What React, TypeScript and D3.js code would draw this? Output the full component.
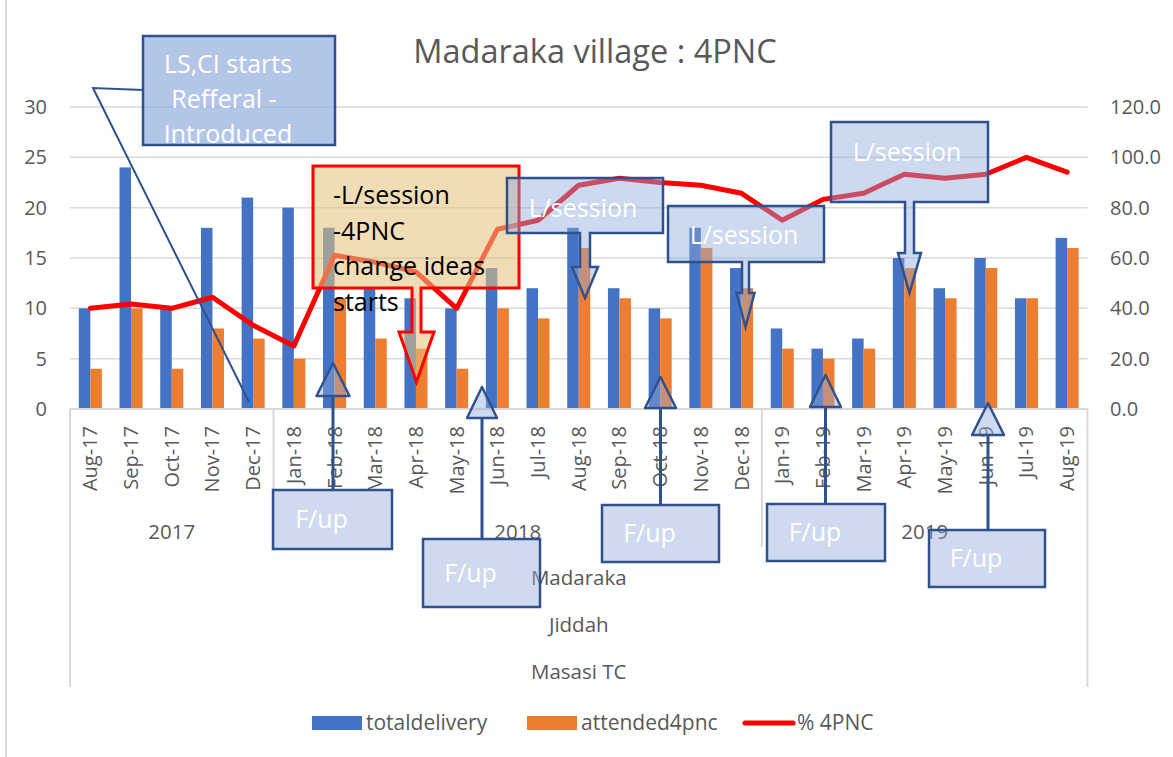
import React, { useRef, useEffect } from "react";
import * as d3 from "d3";

const months = [
  "Aug-17", "Sep-17", "Oct-17", "Nov-17", "Dec-17",
  "Jan-18", "Feb-18", "Mar-18", "Apr-18", "May-18", "Jun-18", "Jul-18",
  "Aug-18", "Sep-18", "Oct-18", "Nov-18", "Dec-18",
  "Jan-19", "Feb-19", "Mar-19", "Apr-19", "May-19", "Jun-19", "Jul-19", "Aug-19",
];
const yearLabels = ["2017", "2018", "2019"];
const yearSpans = [5, 12, 8];
const sites = ["Madaraka", "Jiddah", "Masasi TC"];

const totalDelivery = [10, 24, 10, 18, 21, 20, 18, 12, 11, 10, 14, 12, 18, 12, 10, 18, 14, 8, 6, 7, 15, 12, 15, 11, 17];
const attended4pnc = [4, 10, 4, 8, 7, 5, 11, 7, 6, 4, 10, 9, 16, 11, 9, 16, 12, 6, 5, 6, 14, 11, 14, 11, 16];
const pct4pnc = [40.0, 41.7, 40.0, 44.4, 33.3, 25.0, 61.1, 58.3, 54.5, 40.0, 71.4, 75.0, 88.9, 91.7, 90.0, 88.9, 85.7, 75.0, 83.3, 85.7, 93.3, 91.7, 93.3, 100.0, 94.1];

const leftTicks = [0, 5, 10, 15, 20, 25, 30];
const rightTicks = [0, 20, 40, 60, 80, 100, 120];

const FONT = "'Open Sans', 'Noto Sans', sans-serif";
const TXT = "#595959";
const GRID = "#d9d9d9";
const BLUE = "#4472c4";
const ORANGE = "#ed7d31";
const EDGE = "#2f528f";

// free-floating callouts drawn on top of the chart
const lsBoxes = [
  { x: 507, y: 178, w: 156, h: 55, tx: 583, ty: 217, cx: 585, sh: 5, hh: 13, headY: 267, tip: 298 },
  { x: 668, y: 206, w: 156, h: 56, tx: 744, ty: 244, cx: 745.5, sh: 3.5, hh: 9, headY: 293, tip: 327 },
  { x: 831, y: 122, w: 157, h: 80, tx: 907, ty: 161, cx: 909.5, sh: 4.5, hh: 11.5, headY: 253, tip: 293 },
];
const fupBoxes = [
  { x: 273, y: 490, w: 119, h: 59, cx: 333, base: 396, hh: 16.5, tip: 363 },
  { x: 423, y: 539, w: 117, h: 68, cx: 482, base: 418, hh: 15, tip: 387 },
  { x: 602, y: 505, w: 117, h: 57, cx: 660.5, base: 408, hh: 15.5, tip: 377 },
  { x: 767, y: 504, w: 118, h: 57, cx: 825.5, base: 407, hh: 15.5, tip: 375 },
  { x: 929, y: 530, w: 116, h: 57, cx: 988, base: 435, hh: 16, tip: 403 },
];

const App = () => {
  const svgRef = useRef<SVGSVGElement>(null);

  useEffect(() => {
    const svg = d3.select(svgRef.current);
    svg.selectAll("*").remove();

    const x = d3.scaleBand().domain(months).range([70, 1087.5]).padding(0);
    const bw = x.bandwidth();
    const barW = bw * 0.283;
    const yL = d3.scaleLinear().domain([0, 30]).range([409, 107]);
    const yR = d3.scaleLinear().domain([0, 120]).range([409, 107]);
    const cx = (m: string) => (x(m) as number) + bw / 2;

    // chart frame edge
    svg.append("line").attr("x1", 6).attr("x2", 6).attr("y1", 0).attr("y2", 757)
      .attr("stroke", GRID).attr("stroke-width", 2);

    // title
    svg.append("text").attr("x", 595).attr("y", 63).attr("text-anchor", "middle")
      .attr("font-family", FONT).attr("font-size", 32.5).attr("fill", TXT)
      .text("Madaraka village : 4PNC");

    // gridlines
    svg.append("g").selectAll("line").data(leftTicks).enter().append("line")
      .attr("x1", 70).attr("x2", 1087.5)
      .attr("y1", (d) => yL(d)).attr("y2", (d) => yL(d))
      .attr("stroke", GRID).attr("stroke-width", 1.5);

    // left axis labels
    svg.append("g").selectAll("text").data(leftTicks).enter().append("text")
      .attr("x", 47).attr("y", (d) => yL(d) + 7).attr("text-anchor", "end")
      .attr("font-family", FONT).attr("font-size", 20).attr("fill", TXT)
      .text((d) => d);

    // right axis labels
    svg.append("g").selectAll("text").data(rightTicks).enter().append("text")
      .attr("x", 1110).attr("y", (d) => yR(d) + 7).attr("text-anchor", "start")
      .attr("font-family", FONT).attr("font-size", 20).attr("fill", TXT)
      .text((d) => d3.format(".1f")(d));

    // bars
    svg.append("g").selectAll("rect").data(months).enter().append("rect")
      .attr("x", (m) => cx(m) - barW).attr("width", barW)
      .attr("y", (m, i) => yL(totalDelivery[i])).attr("height", (m, i) => 409 - yL(totalDelivery[i]))
      .attr("fill", BLUE);
    svg.append("g").selectAll("rect").data(months).enter().append("rect")
      .attr("x", (m) => cx(m)).attr("width", barW)
      .attr("y", (m, i) => yL(attended4pnc[i])).attr("height", (m, i) => 409 - yL(attended4pnc[i]))
      .attr("fill", ORANGE);

    // % line
    const line = d3.line<number>().x((d, i) => cx(months[i])).y((d) => yR(d));
    svg.append("path").datum(pct4pnc).attr("d", line).attr("fill", "none")
      .attr("stroke", "#ff0000").attr("stroke-width", 5)
      .attr("stroke-linejoin", "round").attr("stroke-linecap", "round");

    // category axis
    const ax = svg.append("g");
    ax.append("line").attr("x1", 70).attr("x2", 1087.5).attr("y1", 409).attr("y2", 409)
      .attr("stroke", GRID).attr("stroke-width", 2);
    [70, 1087.5].forEach((xx) => {
      ax.append("line").attr("x1", xx).attr("x2", xx).attr("y1", 409).attr("y2", 687)
        .attr("stroke", GRID).attr("stroke-width", 2);
    });
    let acc = 0;
    yearSpans.forEach((n, i) => {
      const start = x(months[acc]) as number;
      const end = start + n * bw;
      if (i > 0) {
        ax.append("line").attr("x1", start).attr("x2", start).attr("y1", 409).attr("y2", 547)
          .attr("stroke", GRID).attr("stroke-width", 2);
      }
      ax.append("text").attr("x", (start + end) / 2).attr("y", 539).attr("text-anchor", "middle")
        .attr("font-family", FONT).attr("font-size", 20.5).attr("fill", TXT).text(yearLabels[i]);
      acc += n;
    });
    ax.selectAll("text.m").data(months).enter().append("text").attr("class", "m")
      .attr("transform", (m) => `translate(${cx(m) + 7},426) rotate(-90)`)
      .attr("text-anchor", "end")
      .attr("font-family", FONT).attr("font-size", 20).attr("fill", TXT)
      .text((m) => m);
    sites.forEach((s, i) => {
      ax.append("text").attr("x", (70 + 1087.5) / 2).attr("y", 585 + i * 47).attr("text-anchor", "middle")
        .attr("font-family", FONT).attr("font-size", 20.5).attr("fill", TXT).text(s);
    });

    // legend
    const lg = svg.append("g").attr("font-family", FONT).attr("font-size", 21).attr("fill", TXT);
    lg.append("rect").attr("x", 312).attr("y", 716).attr("width", 50).attr("height", 14).attr("fill", BLUE);
    lg.append("text").attr("x", 366).attr("y", 730).text("totaldelivery");
    lg.append("rect").attr("x", 527).attr("y", 716).attr("width", 50).attr("height", 14).attr("fill", ORANGE);
    lg.append("text").attr("x", 581).attr("y", 730).text("attended4pnc");
    lg.append("line").attr("x1", 745).attr("x2", 793).attr("y1", 723).attr("y2", 723)
      .attr("stroke", "#ff0000").attr("stroke-width", 5).attr("stroke-linecap", "round");
    lg.append("text").attr("x", 797).attr("y", 730).text("% 4PNC");

    // annotations
    const an = svg.append("g").attr("font-family", FONT);

    // LS,CI callout
    an.append("polyline").attr("points", "143,90 93,88 249,402")
      .attr("fill", "none").attr("stroke", EDGE).attr("stroke-width", 2);
    an.append("rect").attr("x", 143).attr("y", 36).attr("width", 192).attr("height", 109)
      .attr("fill", "#8faadc").attr("fill-opacity", 0.67);
    [["LS,CI starts", 228, 73], ["Refferal -", 224, 108], ["Introduced", 228, 143]].forEach(([t, tx, ty]) => {
      an.append("text").attr("x", tx as number).attr("y", ty as number).attr("text-anchor", "middle")
        .attr("font-size", 25).attr("fill", "#ffffff").text(t as string);
    });
    an.append("rect").attr("x", 143).attr("y", 36).attr("width", 192).attr("height", 109)
      .attr("fill", "none").attr("stroke", EDGE).attr("stroke-width", 2.5);

    // red change-ideas callout
    const rb = { x: 313, y: 166, w: 206, h: 122, cx: 416.5, sh: 4.5, hh: 17.5, headY: 332, tip: 382 };
    const rbPath = `M${rb.x},${rb.y}H${rb.x + rb.w}V${rb.y + rb.h}H${rb.cx + rb.sh}V${rb.headY}H${rb.cx + rb.hh}L${rb.cx},${rb.tip}L${rb.cx - rb.hh},${rb.headY}H${rb.cx - rb.sh}V${rb.y + rb.h}H${rb.x}Z`;
    an.append("path").attr("d", rbPath).attr("fill", "rgb(229,195,124)").attr("fill-opacity", 0.57)
      .attr("stroke", "#ff0000").attr("stroke-width", 3);
    ["-L/session", "-4PNC", "change ideas", "starts"].forEach((t, i) => {
      an.append("text").attr("x", 333).attr("y", 204 + i * 35.5).attr("font-size", 25)
        .attr("fill", "#000000").text(t);
    });

    // L/session callouts
    lsBoxes.forEach((b) => {
      const p = `M${b.x},${b.y}H${b.x + b.w}V${b.y + b.h}H${b.cx + b.sh}V${b.headY}H${b.cx + b.hh}L${b.cx},${b.tip}L${b.cx - b.hh},${b.headY}H${b.cx - b.sh}V${b.y + b.h}H${b.x}Z`;
      an.append("path").attr("d", p).attr("fill", "#8faadc").attr("fill-opacity", 0.45)
        .attr("stroke", EDGE).attr("stroke-width", 2.5);
      an.append("text").attr("x", b.tx).attr("y", b.ty).attr("text-anchor", "middle")
        .attr("font-size", 25).attr("fill", "#ffffff").text("L/session");
    });

    // F/up callouts
    fupBoxes.forEach((b) => {
      an.append("line").attr("x1", b.cx).attr("x2", b.cx).attr("y1", b.base).attr("y2", b.y)
        .attr("stroke", EDGE).attr("stroke-width", 3);
      an.append("path").attr("d", `M${b.cx - b.hh},${b.base}L${b.cx},${b.tip}L${b.cx + b.hh},${b.base}Z`)
        .attr("fill", "#8faadc").attr("fill-opacity", 0.43)
        .attr("stroke", EDGE).attr("stroke-width", 2.5).attr("stroke-linejoin", "round");
      an.append("rect").attr("x", b.x).attr("y", b.y).attr("width", b.w).attr("height", b.h)
        .attr("fill", "#8faadc").attr("fill-opacity", 0.43)
        .attr("stroke", EDGE).attr("stroke-width", 2.5);
      an.append("text").attr("x", b.x + b.w / 2 - 11).attr("y", b.y + b.h / 2 + 8.5)
        .attr("text-anchor", "middle").attr("font-size", 25).attr("fill", "#ffffff").text("F/up");
    });
  }, []);

  return (
    <svg
      ref={svgRef}
      width={1173}
      height={757}
      style={{ position: "absolute", left: 0, top: 0, background: "#ffffff" }}
    />
  );
};

export default App;
